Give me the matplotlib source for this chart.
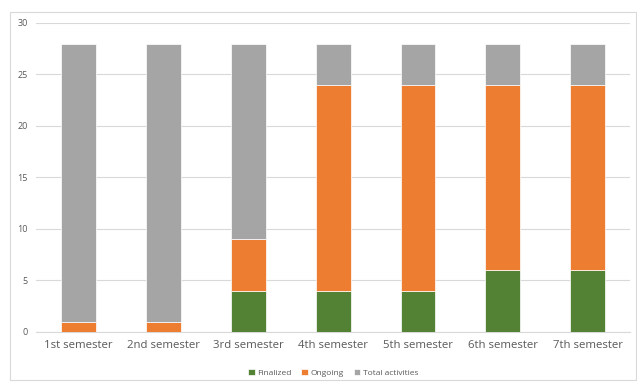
import matplotlib
matplotlib.use('Agg')
from matplotlib import pyplot as plt
from matplotlib.patches import Rectangle
import numpy as np

semesters = ['1st semester', '2nd semester', '3rd semester', '4th semester',
             '5th semester', '6th semester', '7th semester']
finalized = [0, 0, 4, 4, 4, 6, 6]
ongoing = [1, 1, 5, 20, 20, 18, 18]
total_rest = [27, 27, 19, 4, 4, 4, 4]

plt.rcParams['font.family'] = ['Open Sans', 'DejaVu Sans']
txt = '#595959'

fig = plt.figure(figsize=(6.37, 3.82), dpi=100)
ax = fig.add_axes([0.057, 0.131, 0.932, 0.809])

x = np.arange(len(semesters))
w = 0.41
ax.bar(x, finalized, w, color='#548235', edgecolor='white', linewidth=0.5, label='Finalized', zorder=3)
ax.bar(x, ongoing, w, bottom=finalized, color='#ED7D31', edgecolor='white', linewidth=0.5, label='Ongoing', zorder=3)
b2 = np.array(finalized) + np.array(ongoing)
ax.bar(x, total_rest, w, bottom=b2, color='#A5A5A5', edgecolor='white', linewidth=0.5, label='Total activities', zorder=3)

ax.set_xlim(-0.5, len(semesters) - 0.5)
ax.set_ylim(0, 30)
ax.set_yticks(range(0, 31, 5))
ax.set_xticks(x)
ax.set_xticklabels(semesters, fontsize=8.2, color=txt)
ax.tick_params(axis='y', labelsize=6.5, colors=txt, length=0, pad=6)
ax.tick_params(axis='x', length=0, pad=6)
ax.grid(axis='y', color='#D9D9D9', linewidth=0.8, zorder=0)
for s in ['top', 'right', 'left']:
    ax.spines[s].set_visible(False)
ax.spines['bottom'].set_color('#D9D9D9')

ax.legend(loc='upper center', bbox_to_anchor=(0.5, -0.095), ncol=3, frameon=False,
          fontsize=6, labelcolor=txt, handlelength=0.8, handleheight=0.8,
          handletextpad=0.3, columnspacing=1.2)

fig.patches.append(Rectangle((10 / 637, 2 / 382), 626 / 637, 368 / 382,
                             transform=fig.transFigure, fill=False,
                             edgecolor='#D9D9D9', linewidth=0.8))

fig.savefig('out.png', dpi=100)
